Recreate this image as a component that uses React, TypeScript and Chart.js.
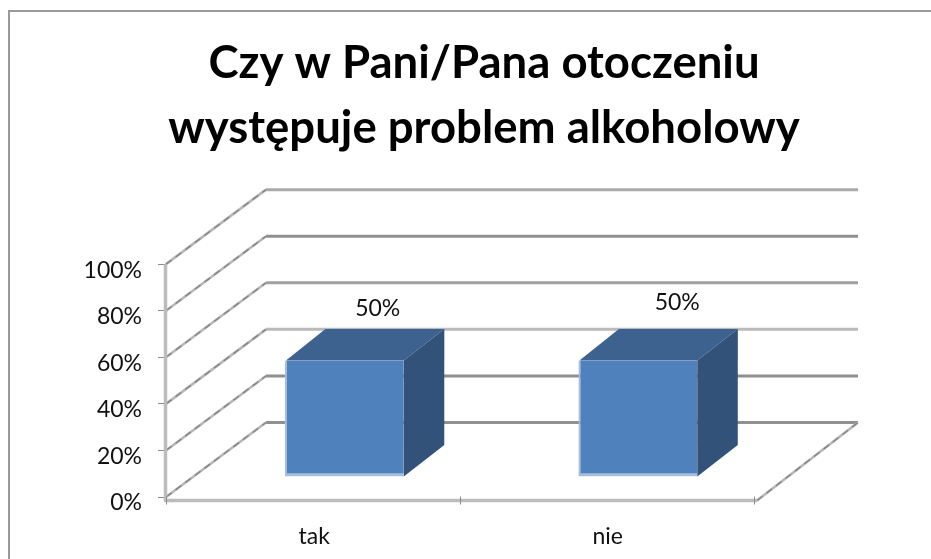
import React, { useEffect, useRef } from "react";
import { Chart, registerables } from "chart.js";

Chart.register(...registerables);

const categories = ["tak", "nie"];
const shares = [50, 50];
const titleLines = ["Czy w Pani/Pana otoczeniu", "występuje problem alkoholowy"];
const FONT = "Lato, Carlito, 'Open Sans', sans-serif";

const WALL_DX = 100;
const WALL_DY = -74.5;
const BAR_DX = 31.6;
const BAR_DY = -20;
const DEPTH_DX = 40.5;
const DEPTH_DY = -31.5;
const wallColors = ["#909090", "#909090", "#bababa", "#a0a0a0", "#909090", "#aaaaaa"];
const labelShiftX = [65, 71];
const labelShiftY = [-71.5, -77.5];

const threeD = {
  id: "threeD",
  beforeDraw(chart: any) {
    const { ctx, width, height } = chart;
    ctx.save();
    ctx.fillStyle = "#ffffff";
    ctx.fillRect(0, 0, width, height);
    ctx.strokeStyle = "#9a9a9a";
    ctx.lineWidth = 2;
    ctx.beginPath();
    ctx.moveTo(9, height);
    ctx.lineTo(9, 11);
    ctx.lineTo(width, 11);
    ctx.stroke();
    ctx.restore();
  },
  afterLayout(chart: any) {
    if (chart.titleBlock) {
      chart.titleBlock.left = 0;
      chart.titleBlock.right = 968;
    }
  },
  beforeDatasetsDraw(chart: any) {
    const { ctx, chartArea, scales } = chart;
    const { left, right, top, bottom } = chartArea;
    const y = scales.y;
    ctx.save();
    y.ticks.forEach((t: any, i: number) => {
      const py = y.getPixelForValue(t.value);
      ctx.lineWidth = 3;
      ctx.strokeStyle = wallColors[i % wallColors.length];
      ctx.beginPath();
      ctx.moveTo(left + WALL_DX, py + WALL_DY);
      ctx.lineTo(right + WALL_DX + 5, py + WALL_DY);
      ctx.stroke();
      // side wall
      ctx.lineWidth = 2.6;
      ctx.strokeStyle = "#b8b8b8";
      ctx.beginPath();
      ctx.moveTo(left, py);
      ctx.lineTo(left + WALL_DX, py + WALL_DY);
      ctx.stroke();
      ctx.lineWidth = 1.4;
      ctx.strokeStyle = "#868686";
      ctx.setLineDash([7, 5]);
      ctx.beginPath();
      ctx.moveTo(left, py);
      ctx.lineTo(left + WALL_DX, py + WALL_DY);
      ctx.stroke();
      ctx.setLineDash([]);
    });
    // floor edge on the right
    const axisY = bottom + 3.5;
    ctx.lineWidth = 2.6;
    ctx.strokeStyle = "#b8b8b8";
    ctx.beginPath();
    ctx.moveTo(right + 4, axisY);
    ctx.lineTo(right + WALL_DX + 5, bottom + WALL_DY);
    ctx.stroke();
    ctx.lineWidth = 1.4;
    ctx.strokeStyle = "#868686";
    ctx.setLineDash([7, 5]);
    ctx.stroke();
    ctx.setLineDash([]);
    // axis lines and category ticks
    ctx.lineWidth = 3.5;
    ctx.strokeStyle = "#bcbcbc";
    ctx.beginPath();
    ctx.moveTo(left - 0.5, top);
    ctx.lineTo(left - 0.5, axisY);
    ctx.lineTo(right + 4, axisY);
    ctx.stroke();
    ctx.lineWidth = 1;
    ctx.strokeStyle = "#8c8c8c";
    const n = categories.length;
    for (let i = 0; i <= n; i++) {
      const x = Math.round(left + (i * (right - left + 1)) / n) + 0.5;
      ctx.beginPath();
      ctx.moveTo(x, axisY - 4);
      ctx.lineTo(x, axisY + 4);
      ctx.stroke();
    }
    ctx.restore();
  },
  beforeDatasetDraw(chart: any) {
    chart.ctx.save();
    chart.ctx.translate(BAR_DX, BAR_DY);
  },
  afterDatasetDraw(chart: any, args: any) {
    const { ctx } = chart;
    const meta = chart.getDatasetMeta(args.index);
    ctx.restore();
    ctx.save();
    meta.data.forEach((el: any, i: number) => {
      const l = el.x + BAR_DX - el.width / 2;
      const r = el.x + BAR_DX + el.width / 2;
      const t = el.y + BAR_DY;
      const b = el.base + BAR_DY;
      ctx.fillStyle = "#3d6290";
      ctx.beginPath();
      ctx.moveTo(l + 1, t);
      ctx.lineTo(l + DEPTH_DX, t + DEPTH_DY);
      ctx.lineTo(r + DEPTH_DX, t + DEPTH_DY);
      ctx.lineTo(r, t);
      ctx.closePath();
      ctx.fill();
      ctx.fillStyle = "#325279";
      ctx.beginPath();
      ctx.moveTo(r, t);
      ctx.lineTo(r + DEPTH_DX, t + DEPTH_DY);
      ctx.lineTo(r + DEPTH_DX, b + DEPTH_DY);
      ctx.lineTo(r, b);
      ctx.closePath();
      ctx.fill();
      ctx.fillStyle = "#111111";
      ctx.font = `23px ${FONT}`;
      ctx.textAlign = "center";
      ctx.textBaseline = "middle";
      ctx.fillText(`${shares[i]}%`, el.x + labelShiftX[i], el.y + labelShiftY[i]);
    });
    ctx.restore();
  },
};

export default function App() {
  const ref = useRef<HTMLCanvasElement>(null);
  useEffect(() => {
    const chart = new Chart(ref.current!, {
      type: "bar",
      data: {
        labels: categories,
        datasets: [
          {
            data: shares,
            backgroundColor: "#4f81bd",
            borderColor: "#a6bedd",
            borderWidth: { left: 2, bottom: 3, top: 0, right: 0 },
            borderSkipped: false,
            barPercentage: 0.81,
            categoryPercentage: 0.5,
            clip: false,
          } as any,
        ],
      },
      plugins: [threeD],
      options: {
        responsive: false,
        animation: false,
        layout: { padding: { left: 0, right: 178, top: 0, bottom: 0 } },
        plugins: {
          legend: { display: false },
          tooltip: { enabled: false },
          title: {
            display: true,
            text: titleLines,
            color: "#000000",
            font: { family: FONT, size: 45.5, weight: "bold", lineHeight: 1.43 },
            padding: { top: 31, bottom: 103 },
          },
        },
        scales: {
          x: {
            grid: { display: false },
            border: { display: false },
            afterFit: (s: any) => {
              s.height = 62;
            },
            ticks: {
              color: "#111111",
              font: { family: FONT, size: 23 },
              padding: 18,
              labelOffset: 1.5,
              maxRotation: 0,
            },
          },
          y: {
            min: 0,
            max: 100,
            afterFit: (s: any) => {
              s.width = 166;
            },
            grid: { drawOnChartArea: false, tickLength: 8, color: "#8c8c8c" },
            border: { display: false },
            ticks: {
              stepSize: 20,
              color: "#111111",
              font: { family: FONT, size: 23 },
              padding: 16,
              labelOffset: 6,
              callback: (v: any) => `${v}%`,
            },
          },
        },
      },
    } as any);
    return () => chart.destroy();
  }, []);
  return (
    <canvas
      ref={ref}
      width={931}
      height={559}
      style={{ position: "absolute", left: 0, top: 0, display: "block" }}
    />
  );
}
